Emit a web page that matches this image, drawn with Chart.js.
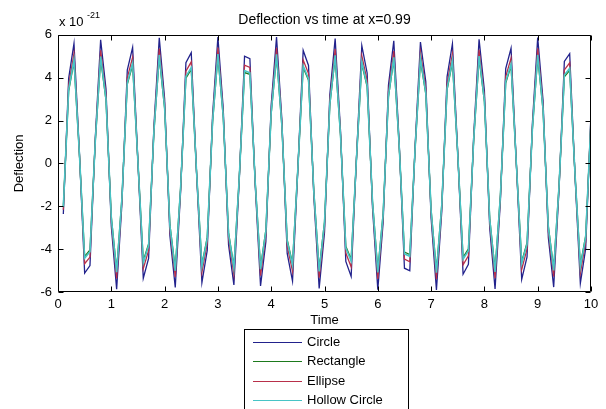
<!DOCTYPE html>
<html>
<head>
<meta charset="utf-8">
<script src="https://cdn.jsdelivr.net/npm/chart.js@4.4.0/dist/chart.umd.min.js"></script>
<style>
  html, body { margin: 0; padding: 0; background: #fff; }
  canvas { display: block; }
</style>
</head>
<body>
<canvas id="deflectionChart" width="606" height="409"></canvas>
<script>
// time samples (s) and deflection values (x 1e-21)
const time = [
  0.1, 0.2, 0.3, 0.4, 0.5, 0.6, 0.7, 0.8, 0.9, 1.0,
  1.1, 1.2, 1.3, 1.4, 1.5, 1.6, 1.7, 1.8, 1.9, 2.0,
  2.1, 2.2, 2.3, 2.4, 2.5, 2.6, 2.7, 2.8, 2.9, 3.0,
  3.1, 3.2, 3.3, 3.4, 3.5, 3.6, 3.7, 3.8, 3.9, 4.0,
  4.1, 4.2, 4.3, 4.4, 4.5, 4.6, 4.7, 4.8, 4.9, 5.0,
  5.1, 5.2, 5.3, 5.4, 5.5, 5.6, 5.7, 5.8, 5.9, 6.0,
  6.1, 6.2, 6.3, 6.4, 6.5, 6.6, 6.7, 6.8, 6.9, 7.0,
  7.1, 7.2, 7.3, 7.4, 7.5, 7.6, 7.7, 7.8, 7.9, 8.0,
  8.1, 8.2, 8.3, 8.4, 8.5, 8.6, 8.7, 8.8, 8.9, 9.0,
  9.1, 9.2, 9.3, 9.4, 9.5, 9.6, 9.7, 9.8, 9.9, 10.0
];

const circle = [
  -2.36, 3.97, 5.60, 0.60, -5.12, -4.77, 1.22, 5.77, 3.48, -2.93,
  -5.87, -1.86, 4.35, 5.41, 0.06, -5.36, -4.43, 1.75, 5.86, 3.03,
  -3.38, -5.79, -1.34, 4.70, 5.17, -0.48, -5.56, -4.06, 2.25, 5.90,
  2.56, -3.81, -5.67, -0.81, 5.00, 4.89, -1.01, -5.72, -3.65, 2.74,
  5.89, 2.06, -4.20, -5.49, -0.28, 5.27, 4.57, -1.54, -5.83, -3.22,
  3.20, 5.83, 1.55, -4.57, -5.27, 0.26, 5.49, 4.22, -2.05, -5.89,
  -2.75, 3.64, 5.72, 1.03, -4.89, -5.01, 0.80, 5.66, 3.82, -2.55,
  -5.90, -2.26, 4.05, 5.57, 0.49, -5.17, -4.71, 1.33, 5.79, 3.40,
  -3.02, -5.86, -1.76, 4.42, 5.37, -0.05, -5.41, -4.36, 1.85, 5.87,
  2.94, -3.47, -5.77, -1.24, 4.76, 5.12, -0.58, -5.60, -3.98, 2.35
];

const rectangle = [
  -2.00, 3.37, 4.75, 0.51, -4.34, -4.04, 1.04, 4.89, 2.95, -2.48,
  -4.98, -1.58, 3.69, 4.59, 0.05, -4.54, -3.76, 1.48, 4.96, 2.57,
  -2.87, -4.91, -1.14, 3.98, 4.39, -0.41, -4.72, -3.44, 1.91, 5.00,
  2.17, -3.23, -4.80, -0.69, 4.24, 4.15, -0.86, -4.85, -3.10, 2.32,
  4.99, 1.75, -3.56, -4.66, -0.23, 4.47, 3.88, -1.30, -4.94, -2.73,
  2.72, 4.94, 1.31, -3.87, -4.47, 0.22, 4.65, 3.57, -1.74, -4.99,
  -2.33, 3.09, 4.85, 0.87, -4.14, -4.25, 0.68, 4.80, 3.24, -2.16,
  -5.00, -1.92, 3.43, 4.72, 0.42, -4.38, -3.99, 1.13, 4.91, 2.88,
  -2.56, -4.97, -1.49, 3.75, 4.55, -0.04, -4.58, -3.70, 1.57, 4.97,
  2.49, -2.94, -4.89, -1.05, 4.04, 4.34, -0.50, -4.74, -3.38, 1.99
];

const ellipse = [
  -2.16, 3.64, 5.13, 0.55, -4.68, -4.37, 1.12, 5.28, 3.19, -2.68,
  -5.37, -1.70, 3.99, 4.95, 0.05, -4.91, -4.06, 1.60, 5.36, 2.78,
  -3.10, -5.30, -1.23, 4.30, 4.74, -0.44, -5.09, -3.72, 2.06, 5.40,
  2.34, -3.49, -5.19, -0.74, 4.58, 4.48, -0.93, -5.24, -3.34, 2.51,
  5.39, 1.89, -3.85, -5.03, -0.25, 4.82, 4.19, -1.41, -5.33, -2.94,
  2.93, 5.34, 1.42, -4.18, -4.83, 0.24, 5.02, 3.86, -1.88, -5.39,
  -2.52, 3.34, 5.24, 0.94, -4.47, -4.59, 0.73, 5.18, 3.50, -2.33,
  -5.40, -2.07, 3.71, 5.10, 0.45, -4.73, -4.31, 1.22, 5.30, 3.11,
  -2.76, -5.36, -1.61, 4.05, 4.91, -0.04, -4.95, -3.99, 1.69, 5.37,
  2.69, -3.18, -5.28, -1.13, 4.36, 4.69, -0.53, -5.12, -3.65, 2.15
];

const hollowCircle = [
  -2.04, 3.44, 4.84, 0.52, -4.42, -4.12, 1.06, 4.99, 3.01, -2.53,
  -5.08, -1.61, 3.76, 4.68, 0.05, -4.64, -3.83, 1.51, 5.06, 2.62,
  -2.93, -5.01, -1.16, 4.06, 4.47, -0.41, -4.81, -3.51, 1.95, 5.10,
  2.21, -3.29, -4.90, -0.70, 4.33, 4.23, -0.88, -4.94, -3.16, 2.37,
  5.09, 1.78, -3.63, -4.75, -0.24, 4.55, 3.95, -1.33, -5.04, -2.78,
  2.77, 5.04, 1.34, -3.95, -4.56, 0.23, 4.74, 3.64, -1.77, -5.09,
  -2.38, 3.15, 4.95, 0.89, -4.22, -4.33, 0.69, 4.90, 3.30, -2.20,
  -5.10, -1.96, 3.50, 4.81, 0.42, -4.47, -4.07, 1.15, 5.01, 2.94,
  -2.61, -5.06, -1.52, 3.82, 4.64, -0.04, -4.67, -3.77, 1.60, 5.07,
  2.54, -3.00, -4.99, -1.07, 4.12, 4.43, -0.50, -4.84, -3.44, 2.03
];

const xTicks = [0, 1, 2, 3, 4, 5, 6, 7, 8, 9, 10];
const yTicks = [-6, -4, -2, 0, 2, 4, 6];

const FONT = '"Liberation Sans", Arial, Helvetica, sans-serif';
Chart.defaults.font.family = FONT;
Chart.defaults.color = '#000';

const toPoints = ys => time.map((t, i) => ({ x: t, y: ys[i] }));

// MATLAB style box with inward ticks on all four sides + exponent label
const matlabAxes = {
  id: 'matlabAxes',
  afterDatasetsDraw(chart) {
    const { ctx, chartArea: a, scales: { x, y } } = chart;
    const L = Math.round(a.left) + 0.5, R = Math.round(a.right) - 0.5;
    const T = Math.round(a.top) + 0.5, B = Math.round(a.bottom) - 0.5;
    const tick = 5;
    ctx.save();
    ctx.strokeStyle = '#000';
    ctx.lineWidth = 1;
    ctx.beginPath();
    ctx.rect(L, T, R - L, B - T);
    xTicks.forEach(v => {
      const px = Math.round(x.getPixelForValue(v)) + 0.5;
      ctx.moveTo(px, B); ctx.lineTo(px, B - tick);
      ctx.moveTo(px, T); ctx.lineTo(px, T + tick);
    });
    yTicks.forEach(v => {
      const py = Math.round(y.getPixelForValue(v)) + 0.5;
      ctx.moveTo(L, py); ctx.lineTo(L + tick, py);
      ctx.moveTo(R, py); ctx.lineTo(R - tick, py);
    });
    ctx.stroke();

    // x 10^-21 above the y axis
    ctx.fillStyle = '#000';
    ctx.textBaseline = 'middle';
    ctx.textAlign = 'left';
    ctx.font = '13px ' + FONT;
    ctx.fillText('x 10', a.left + 1, a.top - 12);
    ctx.font = '9px ' + FONT;
    ctx.fillText('-21', a.left + 29, a.top - 19);
    ctx.restore();
  }
};

// vertical boxed legend under the axes
const boxLegend = {
  id: 'boxLegend',
  afterDraw(chart) {
    const ctx = chart.ctx;
    const left = 244, top = 329, w = 164, rowH = 19.3;
    ctx.save();
    ctx.fillStyle = '#fff';
    ctx.fillRect(left, top, w, 100);
    ctx.strokeStyle = '#000';
    ctx.lineWidth = 1;
    ctx.strokeRect(left + 0.5, top + 0.5, w, 100);
    ctx.font = '13px ' + FONT;
    ctx.textBaseline = 'middle';
    ctx.textAlign = 'left';
    chart.data.datasets.forEach((ds, i) => {
      const yy = Math.round(top + 13 + i * rowH) + 0.5;
      ctx.strokeStyle = ds.borderColor;
      ctx.beginPath();
      ctx.moveTo(253, yy);
      ctx.lineTo(302, yy);
      ctx.stroke();
      ctx.fillStyle = '#000';
      ctx.fillText(ds.label, 307, yy);
    });
    ctx.restore();
  }
};

const canvas = document.getElementById('deflectionChart');
canvas.getContext('2d').letterSpacing = '1px';

new Chart(canvas, {
  type: 'line',
  data: {
    datasets: [
      { label: 'Circle', data: toPoints(circle), borderColor: '#22228c', borderWidth: 1.3, order: 4 },
      { label: 'Rectangle', data: toPoints(rectangle), borderColor: '#1d7a1d', borderWidth: 1.3, order: 3 },
      { label: 'Ellipse', data: toPoints(ellipse), borderColor: '#b8304a', borderWidth: 1.3, order: 2 },
      { label: 'Hollow Circle', data: toPoints(hollowCircle), borderColor: '#48c4c6', borderWidth: 1.6, order: 1 }
    ]
  },
  options: {
    responsive: false,
    animation: false,
    elements: { point: { radius: 0 }, line: { tension: 0 } },
    layout: { padding: { left: 0, right: 15, top: 0, bottom: 77 } },
    plugins: {
      legend: { display: false },
      tooltip: { enabled: false },
      title: {
        display: true,
        text: 'Deflection vs time at x=0.99',
        fullSize: false,
        color: '#000',
        font: { size: 14, weight: 'normal' },
        padding: { top: 12, bottom: 6 }
      }
    },
    scales: {
      x: {
        type: 'linear',
        min: 0,
        max: 10,
        afterBuildTicks: s => { s.ticks = xTicks.map(v => ({ value: v })); },
        afterFit: s => { s.height = 40; },
        grid: { display: false, drawTicks: false },
        border: { display: false },
        ticks: { color: '#000', padding: 5, font: { size: 13 }, maxRotation: 0, autoSkip: false },
        title: { display: true, text: 'Time', color: '#000', font: { size: 13 }, padding: { top: 0, bottom: 4 } }
      },
      y: {
        type: 'linear',
        min: -6,
        max: 6,
        afterBuildTicks: s => { s.ticks = yTicks.map(v => ({ value: v })); },
        afterFit: s => { s.width = 58; },
        grid: { display: false, drawTicks: false },
        border: { display: false },
        ticks: { color: '#000', padding: 6, font: { size: 13 }, autoSkip: false },
        title: { display: true, text: 'Deflection', color: '#000', font: { size: 13 }, padding: { top: 12, bottom: 0 } }
      }
    }
  },
  plugins: [matlabAxes, boxLegend]
});
</script>
</body>
</html>
